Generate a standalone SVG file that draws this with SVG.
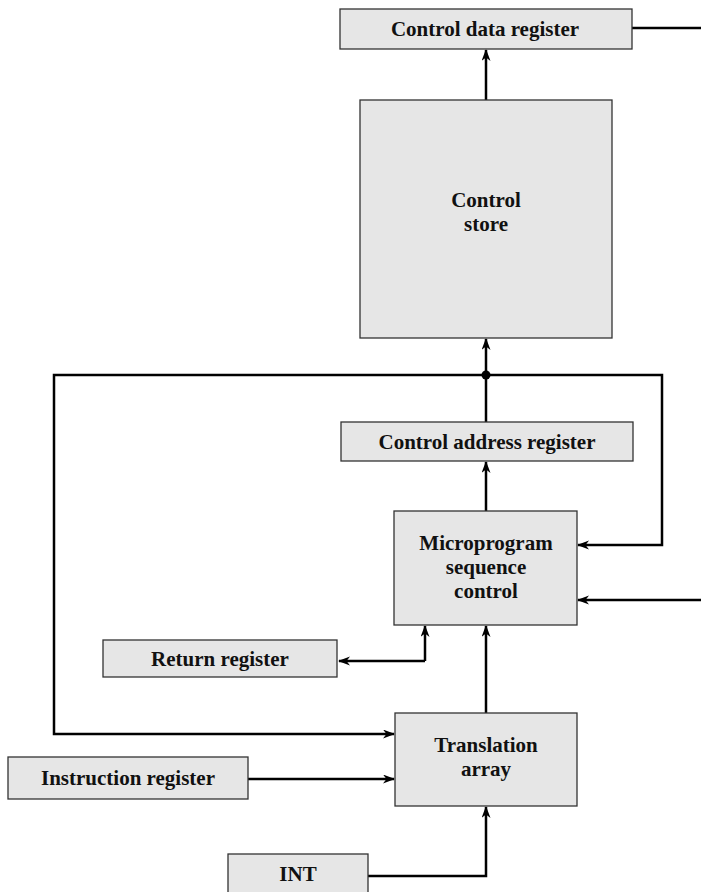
<svg xmlns="http://www.w3.org/2000/svg" width="701" height="892" viewBox="0 0 701 892">
<style>
.box{fill:#e6e6e6;stroke:#333;stroke-width:1.3}
.lbl{font-family:"Liberation Serif","Times New Roman",serif;font-weight:bold;font-size:21px;fill:#111;text-anchor:middle}
.wire{fill:none;stroke:#000;stroke-width:2.5}
</style>
<defs>
<marker id="ah" markerUnits="userSpaceOnUse" markerWidth="12" markerHeight="10" refX="11" refY="4.5" orient="auto">
<path d="M0,0 L12,4.5 L0,9 L3.5,4.5 z" fill="#000"/>
</marker>
</defs>
<rect width="701" height="892" fill="#fff"/>
<g id="connectors">
<path class="wire" d="M632,28 H701"/>
<path class="wire" d="M486,100 V50" marker-end="url(#ah)"/>
<path class="wire" d="M486,422 V339" marker-end="url(#ah)"/>
<path class="wire" d="M486,375 H54 V734 H394" marker-end="url(#ah)"/>
<path class="wire" d="M486,375 H662 V545 H578" marker-end="url(#ah)"/>
<path class="wire" d="M701,600 H578" marker-end="url(#ah)"/>
<path class="wire" d="M486,511 V462" marker-end="url(#ah)"/>
<path class="wire" d="M486,713 V626" marker-end="url(#ah)"/>
<path class="wire" d="M425,661 H339" marker-end="url(#ah)"/>
<path class="wire" d="M425,661 V626" marker-end="url(#ah)"/>
<path class="wire" d="M248,779 H394" marker-end="url(#ah)"/>
<path class="wire" d="M368,876 H486 V807" marker-end="url(#ah)"/>
<circle cx="486" cy="375" r="4.5" fill="#000"/>
</g>
<g id="control-data-register">
<rect class="box" x="340" y="9" width="292" height="40"/>
<text class="lbl" x="485" y="36">Control data register</text>
</g>
<g id="control-store">
<rect class="box" x="360" y="100" width="252" height="238"/>
<text class="lbl" x="486" y="207">Control</text>
<text class="lbl" x="486" y="231">store</text>
</g>
<g id="control-address-register">
<rect class="box" x="341" y="422" width="292" height="39"/>
<text class="lbl" x="487" y="449">Control address register</text>
</g>
<g id="microprogram-sequence-control">
<rect class="box" x="394" y="511" width="183" height="114"/>
<text class="lbl" x="486" y="550">Microprogram</text>
<text class="lbl" x="486" y="574">sequence</text>
<text class="lbl" x="486" y="598">control</text>
</g>
<g id="return-register">
<rect class="box" x="103" y="640" width="234" height="37"/>
<text class="lbl" x="220" y="666">Return register</text>
</g>
<g id="translation-array">
<rect class="box" x="395" y="713" width="182" height="93"/>
<text class="lbl" x="486" y="752">Translation</text>
<text class="lbl" x="486" y="776">array</text>
</g>
<g id="instruction-register">
<rect class="box" x="8" y="757" width="240" height="42"/>
<text class="lbl" x="128" y="785">Instruction register</text>
</g>
<g id="int">
<rect class="box" x="228" y="854" width="140" height="45"/>
<text class="lbl" x="298" y="881">INT</text>
</g>
</svg>
